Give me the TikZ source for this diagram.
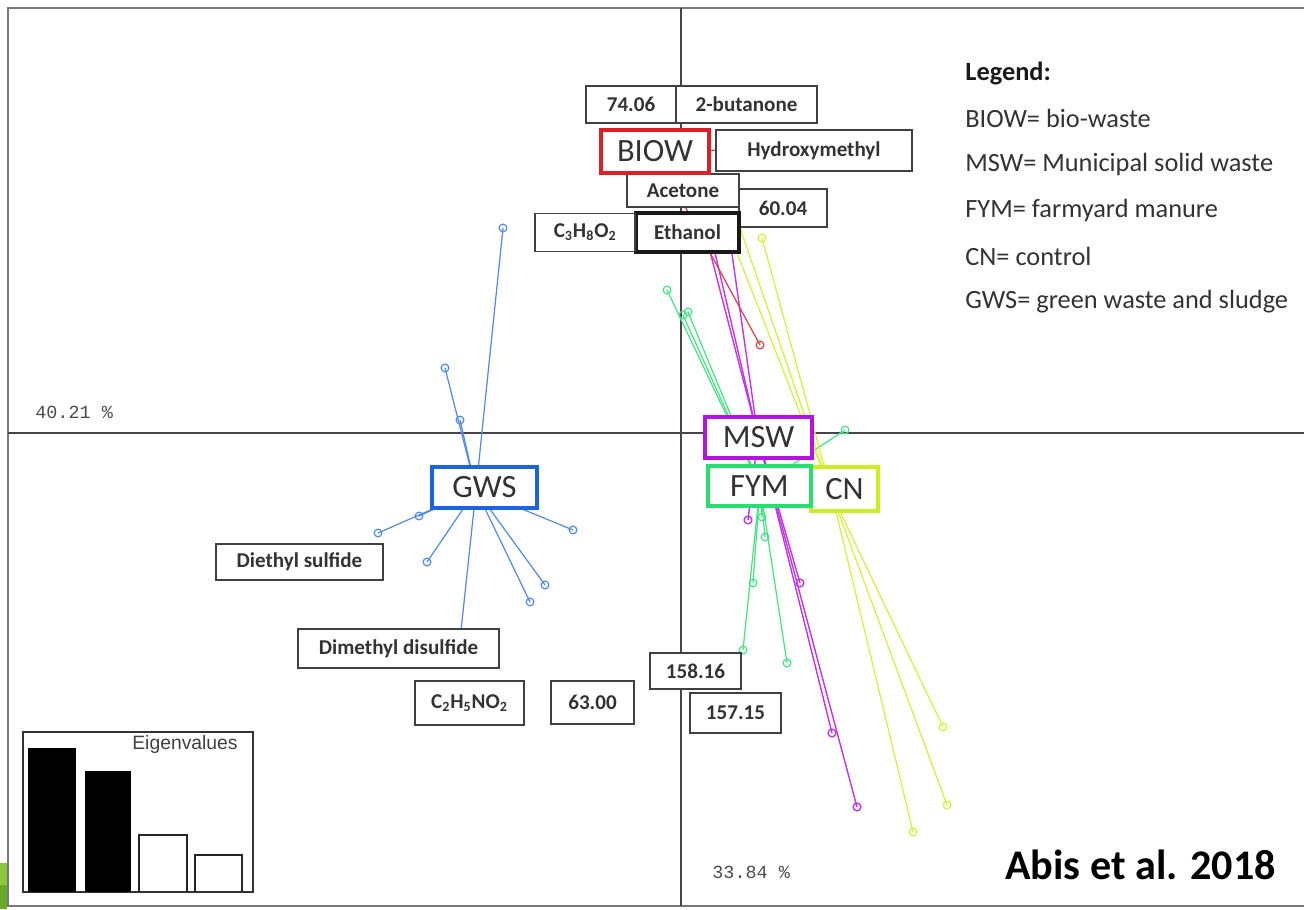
\documentclass[tikz,border=0pt]{standalone}
\usepackage{fontspec}
\setmainfont{Carlito}
\newfontfamily\monofont{Liberation Mono}
\newfontfamily\arialfont{Liberation Sans}
\usepackage{tikz}
\usetikzlibrary{positioning}
\definecolor{biowred}{RGB}{222,30,36}
\definecolor{mswpurple}{RGB}{180,20,225}
\definecolor{fymgreen}{RGB}{40,222,110}
\definecolor{cnyellow}{RGB}{205,238,30}
\definecolor{gwsblue}{RGB}{28,100,222}
\definecolor{axisgray}{RGB}{70,70,70}
\definecolor{framegray}{RGB}{120,120,120}
\definecolor{slidegreen}{RGB}{141,198,63}
\definecolor{slidegreendark}{RGB}{106,170,42}
\tikzset{labelnode/.style={rectangle, draw=black!75, fill=white, line width=1pt, inner sep=0pt, font=\fontsize{12}{14}\selectfont\bfseries, text=black!80},
groupnode/.style={rectangle, fill=white, line width=2.4pt, inner sep=0pt, font=\fontsize{18.5}{20}\selectfont, text=black!80},
legendtext/.style={anchor=west, inner sep=0pt, font=\fontsize{15}{17}\selectfont, text=black!80},
pctnode/.style={anchor=west, inner sep=0pt, font=\monofont\fontsize{10.5}{12}\selectfont, text=black!70},
axisline/.style={draw=axisgray, line width=0.9pt},
biowline/.style={draw=biowred!85, line width=0.7pt},
mswline/.style={draw=mswpurple!85, line width=0.8pt},
fymline/.style={draw=fymgreen!85, line width=0.7pt},
cnline/.style={draw=cnyellow!85, line width=0.7pt},
gwsline/.style={draw=gwsblue!75, line width=0.7pt},}
\newcommand{\drawstar}[3]{\foreach \p in {#3}{\draw[#1] (#2) -- \p; \draw[#1] \p circle[radius=2.2pt];}}

\begin{document}
\begin{tikzpicture}[x=0.02cm, y=-0.02cm]
\useasboundingbox (0,0) rectangle (1304,909);
\fill[white] (0,0) rectangle (1304,909);
\fill[slidegreen] (0,863) rectangle (7,885);
\fill[slidegreendark] (0,885) rectangle (7,909);
\draw[framegray, line width=1.4pt] (1304,8) -- (8,8) -- (8,906) -- (1304,906);
\draw[axisline] (8,433) -- (1304,433);
\draw[axisline] (681,8) -- (681,906);

\coordinate (cbiow) at (655,151);
\coordinate (cmsw) at (758,437);
\coordinate (cfym) at (760,486);
\coordinate (ccn) at (832,495);
\coordinate (cgws) at (476,490);

\drawstar{gwsline}{cgws}{(503,228),(445,368),(460,420),(378,533),(419,516),(427,562),(573,530),(545,585),(530,602),(460,640)}
\drawstar{fymline}{cfym}{(667,290),(688,312),(683,315),(845,430),(743,650),(753,583),(787,663),(765,537),(762,517)}
\drawstar{mswline}{cmsw}{(707,240),(712,240),(730,240),(832,733),(857,807),(748,520),(800,583)}
\drawstar{cnline}{ccn}{(762,238),(728,230),(738,222),(943,727),(947,805),(913,832)}
\drawstar{biowline}{cbiow}{(760,345),(745,150)}

\node [labelnode, minimum width=1.8cm, minimum height=0.74cm] (n7406) at (631,104.5) {74.06};
\node [labelnode, minimum width=2.82cm, minimum height=0.74cm] (butanone) [right=-1pt of n7406] {2-butanone};
\node [labelnode, minimum width=3.92cm, minimum height=0.82cm] (hydroxy) at (814,150.5) {Hydroxymethyl};
\node [labelnode, minimum width=1.76cm, minimum height=0.76cm] (n6004) at (783,208) {60.04};
\node [labelnode, minimum width=2.24cm, minimum height=0.66cm] (acetone) at (683,190.5) {Acetone};
\node [labelnode, line width=2pt, draw=black!90, minimum width=2.06cm, minimum height=0.78cm] (ethanol) at (687.5,232.5) {Ethanol};
\node [labelnode, minimum width=2.0cm, minimum height=0.76cm] (c3h8o2) [left=-1pt of ethanol] {C\textsubscript{3}H\textsubscript{8}O\textsubscript{2}};
\node [groupnode, draw=biowred, minimum width=2.16cm, minimum height=0.86cm] (biow) at (655,151.5) {BIOW};

\node [groupnode, draw=mswpurple, minimum width=2.14cm, minimum height=0.82cm] (msw) at (758.5,437.5) {MSW};
\node [groupnode, draw=cnyellow, minimum width=1.34cm, minimum height=0.88cm] (cn) at (844.5,489) {CN};
\node [groupnode, draw=fymgreen, minimum width=2.06cm, minimum height=0.80cm] (fym) at (759.5,486) {FYM};
\node [groupnode, draw=gwsblue, minimum width=2.1cm, minimum height=0.82cm] (gws) at (484.5,487.5) {GWS};

\node [labelnode, minimum width=3.34cm, minimum height=0.72cm] (diethyl) at (299.5,562) {Diethyl sulfide};
\node [labelnode, minimum width=4.02cm, minimum height=0.78cm] (dimethyl) at (398.5,648.5) {Dimethyl disulfide};
\node [labelnode, minimum width=2.18cm, minimum height=0.88cm] (c2h5no2) at (469.5,703) {C\textsubscript{2}H\textsubscript{5}NO\textsubscript{2}};
\node [labelnode, minimum width=1.66cm, minimum height=0.86cm] (n6300) at (592.5,702.5) {63.00};
\node [labelnode, minimum width=1.82cm, minimum height=0.72cm] (n15816) at (695.5,671) {158.16};
\node [labelnode, minimum width=1.82cm, minimum height=0.80cm] (n15715) at (735.5,713) {157.15};

\node [legendtext, font=\fontsize{15}{17}\selectfont\bfseries, text=black!90] (lg0) at (965,73) {Legend:};
\foreach \t [count=\i] in {BIOW= bio-waste, MSW= Municipal solid waste, FYM= farmyard manure, CN= control, GWS= green waste and sludge}
  \node [legendtext] (lg\i) at (965,72+46*\i) {\t};

\node [pctnode] (pcty) at (35,412) {40.21 \%};
\node [pctnode] (pctx) at (712,872) {33.84 \%};

\draw [black!80, line width=1pt] (23,732) rectangle (253,892);
\fill [black] (28,748) rectangle (76,892);
\fill [black] (85,771) rectangle (131,892);
\draw [black!85, line width=1pt] (139,892) |- (187,835) -- (187,892);
\draw [black!85, line width=1pt] (195,892) |- (242,855) -- (242,892);
\node [anchor=east, inner sep=0pt, font=\arialfont\fontsize{11}{13}\selectfont, text=black!75] (eigen) at (238,744) {Eigenvalues};

\node [anchor=west, inner sep=0pt, font=\fontsize{24}{28}\selectfont\bfseries] (cite) at (1005,865) {Abis et al. 2018};
\end{tikzpicture}
\end{document}
